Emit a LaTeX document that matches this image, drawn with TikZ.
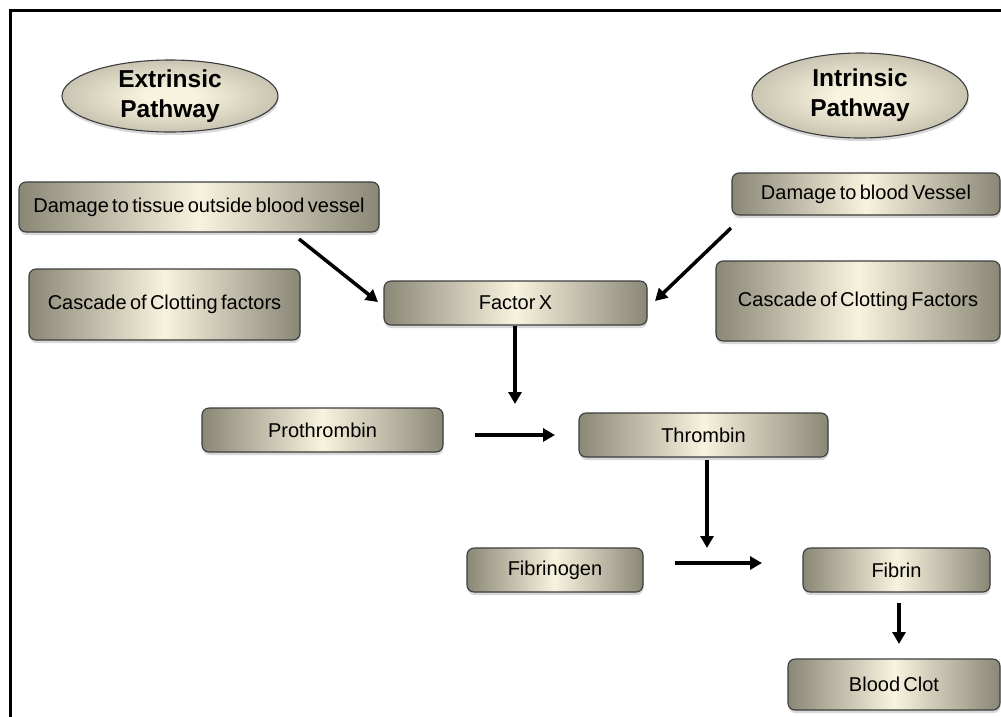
\documentclass[tikz,border=0pt]{standalone}
\usepackage{fontspec}
\setmainfont[WordSpace=0.6]{Liberation Sans}
\usetikzlibrary{shapes.geometric,arrows.meta,shadows}
\definecolor{cream}{RGB}{248,243,222}
\definecolor{olivegray}{RGB}{138,135,118}
\definecolor{edgegray}{RGB}{60,60,60}
\pgfdeclareradialshading{ellshade}{\pgfpoint{0bp}{0bp}}{color(0bp)=(cream); color(6bp)=(cream); color(50bp)=(olivegray)}
\tikzset{
  stepbox/.style={rectangle, rounded corners=7pt, draw=edgegray, line width=1.1pt,
    left color=olivegray, right color=olivegray, middle color=cream,
    drop shadow={shadow xshift=0.5pt, shadow yshift=-3pt, opacity=0.3},
    font=\fontsize{20}{24}\selectfont, inner sep=0pt, text=black},
  pathell/.style={ellipse, draw=edgegray, line width=1.1pt, shading=ellshade,
    drop shadow={shadow xshift=0.5pt, shadow yshift=-3pt, opacity=0.3}, inner sep=0pt},
  pathtxt/.style={font=\fontsize{24.5}{30}\selectfont\bfseries, align=center, inner sep=0pt},
  flow/.style={line width=3.5pt, -{Triangle[length=12pt,width=13pt]}},
  frameline/.style={line width=3pt, draw=black}
}
\begin{document}
\begin{tikzpicture}[x=1pt,y=-1pt]
\useasboundingbox (0,0) rectangle (1001,716);
\begin{scope}
\clip (0,0) rectangle (1001,716);
\fill[white] (0,0) rectangle (1001,716);
\draw[frameline] (10.5,10.5) rectangle (1040,760);

% pathway ellipses
\node[pathell, minimum width=216pt, minimum height=72pt] (ext) at (170,96) {};
\node[pathtxt] (extT) at (ext.center) {Extrinsic\\Pathway};
\node[pathell, minimum width=216pt, minimum height=85pt] (int) at (860,95.5) {};
\node[pathtxt] (intT) at (int.center) {Intrinsic\\Pathway};

% boxes
\node[stepbox, minimum width=360pt, minimum height=50pt] (tissue) at (199,207) {Damage to tissue outside blood vessel};
\node[stepbox, minimum width=268pt, minimum height=42pt] (vessel) at (866,194) {Damage to blood Vessel};
\node[stepbox, minimum width=271pt, minimum height=71pt] (cascL) at (164.5,304.5) {Cascade of Clotting factors};
\node[stepbox, minimum width=263pt, minimum height=44pt] (factorX) at (515.5,303) {Factor X};
\node[stepbox, minimum width=284pt, minimum height=80pt] (cascR) at (858,301) {Cascade of Clotting Factors};
\node[stepbox, minimum width=241pt, minimum height=44pt] (prothrombin) at (322.5,430) {Prothrombin};
\node[stepbox, minimum width=249pt, minimum height=44pt] (thrombin) at (703.5,435) {Thrombin};
\node[stepbox, minimum width=176pt, minimum height=44pt] (fibrinogen) at (555,570) {Fibrinogen};
\node[stepbox, minimum width=187pt, minimum height=44pt] (fibrin) at (896.5,570) {Fibrin};
\node[stepbox, minimum width=212pt, minimum height=51pt] (clot) at (894,684.5) {Blood Clot};

% arrow end points
\coordinate (a1s) at (299,239);
\coordinate (a1e) at (378,302);
\coordinate (a2s) at (731,228);
\coordinate (a2e) at (655,301);
\coordinate (a3s) at (515,326);
\coordinate (a3e) at (515,404);
\coordinate (a4s) at (475,435);
\coordinate (a4e) at (555,435);
\coordinate (a5s) at (707,460);
\coordinate (a5e) at (707,548);
\coordinate (a6s) at (675,563);
\coordinate (a6e) at (762,563);
\coordinate (a7s) at (899,603);
\coordinate (a7e) at (899,644);

\draw[flow] (a1s) -- (a1e);
\draw[flow] (a2s) -- (a2e);
\draw[flow] (a3s) -- (a3e);
\draw[flow] (a4s) -- (a4e);
\draw[flow] (a5s) -- (a5e);
\draw[flow] (a6s) -- (a6e);
\draw[flow] (a7s) -- (a7e);
\end{scope}
\end{tikzpicture}
\end{document}
